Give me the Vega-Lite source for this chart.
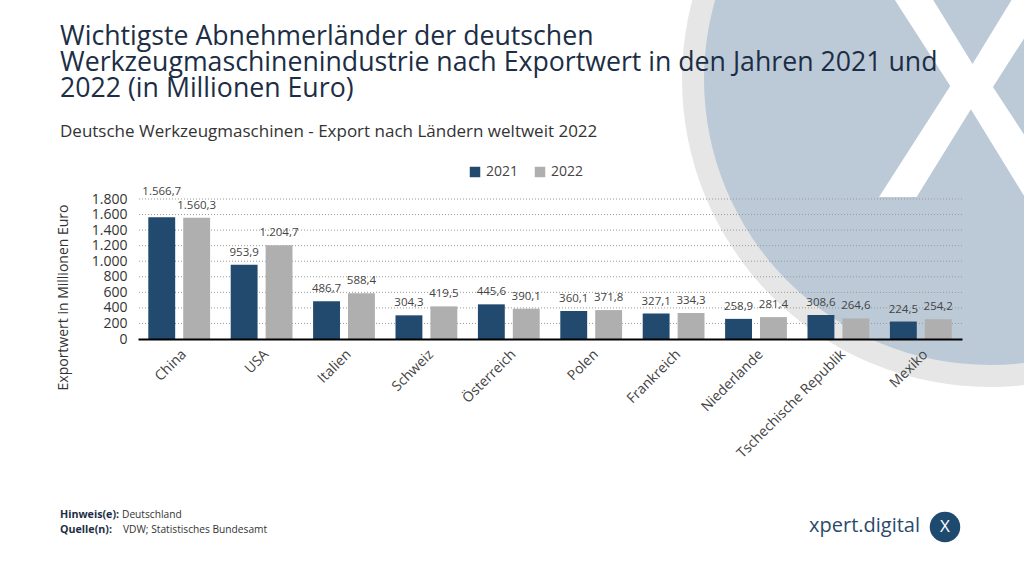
{
  "$schema": "https://vega.github.io/schema/vega-lite/v6.json",
  "width": 824,
  "height": 140,
  "autosize": {"type": "none"},
  "padding": {"left": 138, "top": 199, "right": 62, "bottom": 237},
  "background": "white",
  "config": {
    "font": "Open Sans",
    "view": {"stroke": null},
    "axisY": {"labelOverlap": false, "tickCount": 10},
    "locale": {"number": {"decimal": ",", "thousands": ".", "grouping": [3], "currency": ["", " €"]}}
  },
  "title": {
    "text": ["Wichtigste Abnehmerländer der deutschen", "Werkzeugmaschinenindustrie nach Exportwert in den Jahren 2021 und", "2022 (in Millionen Euro)"],
    "subtitle": "Deutsche Werkzeugmaschinen - Export nach Ländern weltweit 2022",
    "anchor": "start",
    "frame": "group",
    "dx": -78,
    "dy": 391,
    "offset": 22,
    "font": "Open Sans",
    "fontSize": 26.7,
    "lineHeight": 26,
    "fontWeight": "normal",
    "color": "#1c2e45",
    "subtitleFont": "Open Sans",
    "subtitleFontSize": 17,
    "subtitleColor": "#333333",
    "subtitlePadding": 21
  },
  "datasets": {
    "exports": [
      {"country": "China", "year": "2021", "value": 1566.7},
      {"country": "China", "year": "2022", "value": 1560.3},
      {"country": "USA", "year": "2021", "value": 953.9},
      {"country": "USA", "year": "2022", "value": 1204.7},
      {"country": "Italien", "year": "2021", "value": 486.7},
      {"country": "Italien", "year": "2022", "value": 588.4},
      {"country": "Schweiz", "year": "2021", "value": 304.3},
      {"country": "Schweiz", "year": "2022", "value": 419.5},
      {"country": "Österreich", "year": "2021", "value": 445.6},
      {"country": "Österreich", "year": "2022", "value": 390.1},
      {"country": "Polen", "year": "2021", "value": 360.1},
      {"country": "Polen", "year": "2022", "value": 371.8},
      {"country": "Frankreich", "year": "2021", "value": 327.1},
      {"country": "Frankreich", "year": "2022", "value": 334.3},
      {"country": "Niederlande", "year": "2021", "value": 258.9},
      {"country": "Niederlande", "year": "2022", "value": 281.4},
      {"country": "Tschechische Republik", "year": "2021", "value": 308.6},
      {"country": "Tschechische Republik", "year": "2022", "value": 264.6},
      {"country": "Mexiko", "year": "2021", "value": 224.5},
      {"country": "Mexiko", "year": "2022", "value": 254.2}
    ],
    "ticks": [{"v": 200}, {"v": 400}, {"v": 600}, {"v": 800}, {"v": 1000}, {"v": 1200}, {"v": 1400}, {"v": 1600}, {"v": 1800}]
  },
  "layer": [
    {
      "data": {"values": [{}]},
      "mark": {"type": "point", "shape": "circle", "filled": true, "color": "#e6e6e6", "opacity": 1, "size": 379456},
      "encoding": {"x": {"value": 852}, "y": {"value": -120}}
    },
    {
      "data": {"values": [{}]},
      "mark": {"type": "point", "shape": "circle", "filled": true, "color": "#bccad8", "opacity": 1, "size": 327184},
      "encoding": {"x": {"value": 852}, "y": {"value": -120}}
    },
    {
      "data": {"values": [{}]},
      "mark": {"type": "text", "text": "X", "font": "Open Sans", "fontSize": 300, "fontWeight": 600, "color": "white", "align": "center", "baseline": "alphabetic"},
      "encoding": {"x": {"value": 834}, "y": {"value": -2}}
    },
    {
      "data": {"name": "ticks"},
      "mark": {"type": "rule", "color": "#999999", "strokeDash": [1, 2], "strokeWidth": 1},
      "encoding": {"y": {"field": "v", "type": "quantitative", "axis": {"title": "Exportwert in Millionen Euro", "format": ",d", "values": [0, 200, 400, 600, 800, 1000, 1200, 1400, 1600, 1800], "tickCount": 10, "labelOverlap": false, "grid": false, "domain": false, "ticks": false, "labelFontSize": 14, "labelColor": "#333333", "labelPadding": 11, "titleFontSize": 14, "titleFontWeight": "normal", "titleColor": "#333333", "titleX": -75, "titleY": 98, "titleBaseline": "middle", "titleAlign": "center"}}}
    },
    {
      "data": {"name": "exports"},
      "mark": {"type": "bar"},
      "encoding": {
        "x": {
          "field": "country", "type": "nominal", "sort": null,
          "scale": {"paddingInner": 0.25, "paddingOuter": 0.125},
          "axis": {"title": null, "labelAngle": -45, "labelFontSize": 14, "labelColor": "#444444", "ticks": false, "domainColor": "#000000", "domainWidth": 2, "labelPadding": 8, "zindex": 1}
        },
        "xOffset": {"field": "year", "type": "nominal", "scale": {"paddingInner": 0.23, "paddingOuter": 0}},
        "y": {
          "field": "value", "type": "quantitative",
          "scale": {"domain": [0, 1800], "nice": false},
          "axis": {"title": "Exportwert in Millionen Euro", "format": ",d", "values": [0, 200, 400, 600, 800, 1000, 1200, 1400, 1600, 1800], "tickCount": 10, "labelOverlap": false, "grid": false, "domain": false, "ticks": false, "labelFontSize": 14, "labelColor": "#333333", "labelPadding": 11, "titleFontSize": 14, "titleFontWeight": "normal", "titleColor": "#333333", "titleX": -75, "titleY": 98, "titleBaseline": "middle", "titleAlign": "center"}
        },
        "color": {
          "field": "year", "type": "nominal",
          "scale": {"domain": ["2021", "2022"], "range": ["#22496e", "#afafaf"]},
          "legend": {"orient": "none", "legendX": 330, "legendY": -34, "direction": "horizontal", "title": null, "symbolType": "square", "symbolSize": 110, "symbolStrokeWidth": 0, "labelFontSize": 14, "labelColor": "#444444", "columnPadding": 14}
        }
      }
    },
    {
      "data": {"name": "exports"},
      "transform": [{"filter": "!(datum.country == 'China' && datum.year == '2021')"}],
      "mark": {"type": "text", "fontSize": 11.5, "color": "#444444", "baseline": "middle", "dy": -12},
      "encoding": {
        "x": {"field": "country", "type": "nominal", "sort": null},
        "xOffset": {"field": "year", "type": "nominal"},
        "y": {"field": "value", "type": "quantitative"},
        "text": {"field": "value", "type": "quantitative", "format": ",.1f"}
      }
    },
    {
      "data": {"name": "exports"},
      "transform": [{"filter": "datum.country == 'China' && datum.year == '2021'"}],
      "mark": {"type": "text", "fontSize": 11.5, "color": "#444444", "baseline": "middle", "dy": -25},
      "encoding": {
        "x": {"field": "country", "type": "nominal", "sort": null},
        "xOffset": {"field": "year", "type": "nominal"},
        "y": {"field": "value", "type": "quantitative"},
        "text": {"field": "value", "type": "quantitative", "format": ",.1f"}
      }
    },
    {
      "data": {"values": [{}]},
      "mark": {"type": "text", "text": "Hinweis(e):", "fontSize": 10.7, "fontWeight": "bold", "color": "#1c2e45", "align": "left", "baseline": "middle"},
      "encoding": {"x": {"value": -78}, "y": {"value": 316}}
    },
    {
      "data": {"values": [{}]},
      "mark": {"type": "text", "text": "Deutschland", "fontSize": 10.2, "color": "#333333", "align": "left", "baseline": "middle"},
      "encoding": {"x": {"value": -16}, "y": {"value": 316}}
    },
    {
      "data": {"values": [{}]},
      "mark": {"type": "text", "text": "Quelle(n):", "fontSize": 10.7, "fontWeight": "bold", "color": "#1c2e45", "align": "left", "baseline": "middle"},
      "encoding": {"x": {"value": -78}, "y": {"value": 331}}
    },
    {
      "data": {"values": [{}]},
      "mark": {"type": "text", "text": "VDW; Statistisches Bundesamt", "fontSize": 10.2, "color": "#333333", "align": "left", "baseline": "middle"},
      "encoding": {"x": {"value": -15}, "y": {"value": 331}}
    },
    {
      "data": {"values": [{}]},
      "mark": {"type": "text", "text": "xpert.digital", "fontSize": 20, "color": "#2c4a6b", "align": "right", "baseline": "middle"},
      "encoding": {"x": {"value": 782}, "y": {"value": 327}}
    },
    {
      "data": {"values": [{}]},
      "mark": {"type": "point", "shape": "circle", "filled": true, "color": "#1f4a70", "opacity": 1, "size": 930},
      "encoding": {"x": {"value": 807}, "y": {"value": 328}}
    },
    {
      "data": {"values": [{}]},
      "mark": {"type": "text", "text": "X", "fontSize": 17, "color": "white", "align": "center", "baseline": "middle"},
      "encoding": {"x": {"value": 807}, "y": {"value": 328}}
    }
  ]
}
